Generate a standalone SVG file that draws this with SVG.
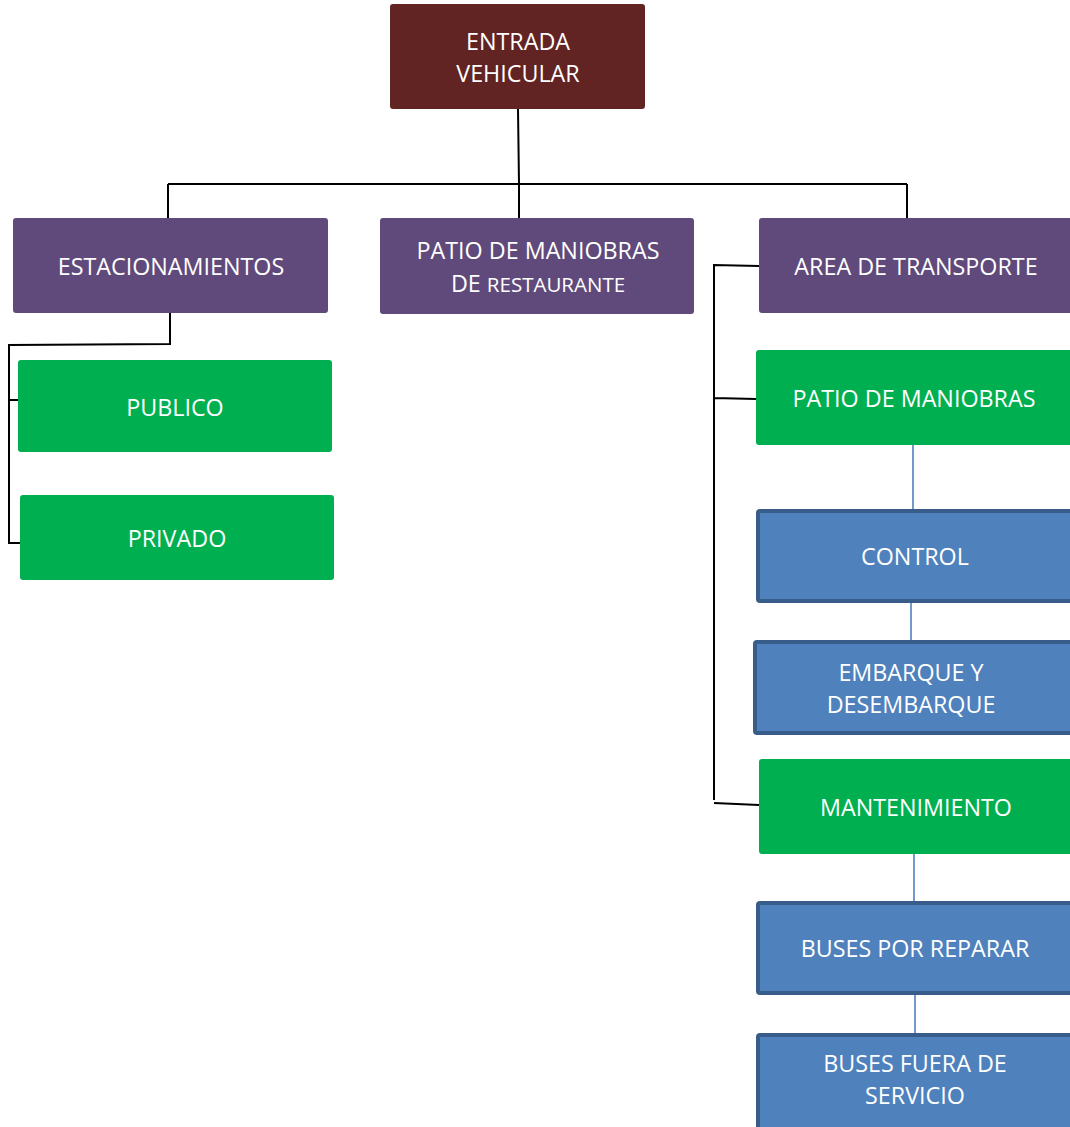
<svg xmlns="http://www.w3.org/2000/svg" width="1070" height="1127" viewBox="0 0 1070 1127">
<style>
.t{font-family:"Open Sans","Noto Sans",sans-serif;font-size:23.3px;fill:#fff;text-anchor:middle}
.s{font-size:20.5px}
.red{fill:#622423}
.pur{fill:#604a7b}
.grn{fill:#00b050}
.blu{fill:#4f81bd;stroke:#385d8a;stroke-width:4}
.k{stroke:#000;stroke-width:2;fill:none}
.b{stroke:#4f81bd;stroke-width:1.6;fill:none}
</style>
<rect width="1070" height="1127" fill="#fff"/>
<g id="connectors">
<path class="k" d="M518 109 L519 184 M168 184 L907 184 M168 184 L168 218 M519 184 L519 218 M907 184 L907 218"/>
<path class="k" d="M170 313 L170 344 L9 345 L9 543 L20 543 M9 400 L18 400"/>
<path class="k" d="M759 266 L714 265 L714 800 M714 398 L756 399 M714 803 L759 805"/>
<path class="b" d="M913 445 L913 509 M911 602 L911 640 M914 854 L914 901 M915 994 L915 1033"/>
</g>
<g id="entrada"><rect class="red" x="390" y="4" width="255" height="105" rx="3"/><text class="t" x="518" y="50">ENTRADA</text><text class="t" x="518" y="82">VEHICULAR</text></g>
<g id="estacionamientos"><rect class="pur" x="13" y="218" width="315" height="95" rx="3"/><text class="t" x="171" y="275">ESTACIONAMIENTOS</text></g>
<g id="patio-restaurante"><rect class="pur" x="380" y="218" width="314" height="96" rx="3"/><text class="t" x="538" y="259">PATIO DE MANIOBRAS</text><text class="t" x="538" y="292">DE <tspan class="s">RESTAURANTE</tspan></text></g>
<g id="area-transporte"><rect class="pur" x="759" y="218" width="320" height="95" rx="3"/><text class="t" x="916" y="275">AREA DE TRANSPORTE</text></g>
<g id="publico"><rect class="grn" x="18" y="360" width="314" height="92" rx="3"/><text class="t" x="175" y="416">PUBLICO</text></g>
<g id="privado"><rect class="grn" x="20" y="495" width="314" height="85" rx="3"/><text class="t" x="177" y="547">PRIVADO</text></g>
<g id="patio-maniobras"><rect class="grn" x="756" y="350" width="320" height="95" rx="3"/><text class="t" x="914" y="407">PATIO DE MANIOBRAS</text></g>
<g id="control"><rect class="blu" x="758" y="511" width="320" height="90" rx="2"/><text class="t" x="915" y="565">CONTROL</text></g>
<g id="embarque"><rect class="blu" x="755" y="642" width="320" height="91" rx="2"/><text class="t" x="911" y="681">EMBARQUE Y</text><text class="t" x="911" y="713">DESEMBARQUE</text></g>
<g id="mantenimiento"><rect class="grn" x="759" y="759" width="320" height="95" rx="3"/><text class="t" x="916" y="816">MANTENIMIENTO</text></g>
<g id="buses-reparar"><rect class="blu" x="758" y="903" width="320" height="90" rx="2"/><text class="t" x="915" y="957">BUSES POR REPARAR</text></g>
<g id="buses-fuera"><rect class="blu" x="758" y="1035" width="320" height="95" rx="2"/><text class="t" x="915" y="1072">BUSES FUERA DE</text><text class="t" x="915" y="1104">SERVICIO</text></g>
</svg>
